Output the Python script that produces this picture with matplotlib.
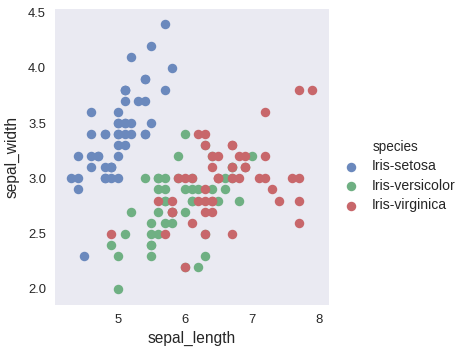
import matplotlib
matplotlib.use("Agg")
import matplotlib.pyplot as plt

# iris sepal measurements, per species
setosa_len = [5.1, 4.9, 4.7, 4.6, 5.0, 5.4, 4.6, 5.0, 4.4, 4.9, 5.4, 4.8, 4.8, 4.3, 5.8, 5.7, 5.4, 5.1, 5.7, 5.1,
              5.4, 5.1, 4.6, 5.1, 4.8, 5.0, 5.0, 5.2, 5.2, 4.7, 4.8, 5.4, 5.2, 5.5, 4.9, 5.0, 5.5, 4.9, 4.4, 5.1,
              5.0, 4.5, 4.4, 5.0, 5.1, 4.8, 5.1, 4.6, 5.3, 5.0]
setosa_wid = [3.5, 3.0, 3.2, 3.1, 3.6, 3.9, 3.4, 3.4, 2.9, 3.1, 3.7, 3.4, 3.0, 3.0, 4.0, 4.4, 3.9, 3.5, 3.8, 3.8,
              3.4, 3.7, 3.6, 3.3, 3.4, 3.0, 3.4, 3.5, 3.4, 3.2, 3.1, 3.4, 4.1, 4.2, 3.1, 3.2, 3.5, 3.1, 3.0, 3.4,
              3.5, 2.3, 3.2, 3.5, 3.8, 3.0, 3.8, 3.2, 3.7, 3.3]
versi_len = [7.0, 6.4, 6.9, 5.5, 6.5, 5.7, 6.3, 4.9, 6.6, 5.2, 5.0, 5.9, 6.0, 6.1, 5.6, 6.7, 5.6, 5.8, 6.2, 5.6,
             5.9, 6.1, 6.3, 6.1, 6.4, 6.6, 6.8, 6.7, 6.0, 5.7, 5.5, 5.5, 5.8, 6.0, 5.4, 6.0, 6.7, 6.3, 5.6, 5.5,
             5.5, 6.1, 5.8, 5.0, 5.6, 5.7, 5.7, 6.2, 5.1, 5.7]
versi_wid = [3.2, 3.2, 3.1, 2.3, 2.8, 2.8, 3.3, 2.4, 2.9, 2.7, 2.0, 3.0, 2.2, 2.9, 2.9, 3.1, 3.0, 2.7, 2.2, 2.5,
             3.2, 2.8, 2.5, 2.8, 2.9, 3.0, 2.8, 3.0, 2.9, 2.6, 2.4, 2.4, 2.7, 2.7, 3.0, 3.4, 3.1, 2.3, 3.0, 2.5,
             2.6, 3.0, 2.6, 2.3, 2.7, 3.0, 2.9, 2.9, 2.5, 2.8]
virg_len = [6.3, 5.8, 7.1, 6.3, 6.5, 7.6, 4.9, 7.3, 6.7, 7.2, 6.5, 6.4, 6.8, 5.7, 5.8, 6.4, 6.5, 7.7, 7.7, 6.0,
            6.9, 5.6, 7.7, 6.3, 6.7, 7.2, 6.2, 6.1, 6.4, 7.2, 7.4, 7.9, 6.4, 6.3, 6.1, 7.7, 6.3, 6.4, 6.0, 6.9,
            6.7, 6.9, 5.8, 6.8, 6.7, 6.7, 6.3, 6.5, 6.2, 5.9]
virg_wid = [3.3, 2.7, 3.0, 2.9, 3.0, 3.0, 2.5, 2.9, 2.5, 3.6, 3.2, 2.7, 3.0, 2.5, 2.8, 3.2, 3.0, 3.8, 2.6, 2.2,
            3.2, 2.8, 2.8, 2.7, 3.3, 3.2, 2.8, 3.0, 2.8, 3.0, 2.8, 3.8, 2.8, 2.8, 2.6, 3.0, 3.4, 3.1, 3.0, 3.1,
            3.1, 3.1, 2.7, 3.2, 3.3, 3.0, 2.5, 3.0, 3.4, 3.0]

species = ["Iris-setosa", "Iris-versicolor", "Iris-virginica"]
# seaborn "deep" colours as they look at 0.8 alpha on the grey background (no overlap darkening)
colors = ["#6B89BD", "#6FB083", "#C8676B"]

plt.rcParams["font.family"] = ["Liberation Sans", "DejaVu Sans"]
plt.rcParams["text.color"] = "#262626"

fig = plt.figure(figsize=(470 / 72, 352 / 72), dpi=72)
ax = fig.add_axes([55 / 470, 1 - 305 / 352, 274 / 470, 296 / 352])
ax.set_facecolor("#EAEAF2")
for s in ax.spines.values():
    s.set_visible(False)

data = [(setosa_len, setosa_wid), (versi_len, versi_wid), (virg_len, virg_wid)]
for (x, y), name, c in zip(data, species, colors):
    ax.scatter(x, y, s=90, color=c, linewidths=0, label=name)

ax.set_xlim(4.06, 8.15)
ax.set_ylim(1.855, 4.533)
ax.set_xticks([5, 6, 7, 8])
ax.set_yticks([2.0, 2.5, 3.0, 3.5, 4.0, 4.5])
ax.set_yticklabels(["2.0", "2.5", "3.0", "3.5", "4.0", "4.5"])
ax.tick_params(length=0, labelsize=13, labelcolor="#262626", pad=9)
ax.set_xlabel("sepal_length", fontsize=15.5, color="#262626", labelpad=5)
ax.set_ylabel("sepal_width", fontsize=15.5, color="#262626", labelpad=8)

leg = fig.legend(loc="center left", bbox_to_anchor=(324 / 470, 1 - 176 / 352), frameon=False,
                 title="species", fontsize=14, title_fontsize=13.5, handletextpad=0.5,
                 labelspacing=0.4, markerscale=1.0)

fig.savefig("out.png", dpi=72)
